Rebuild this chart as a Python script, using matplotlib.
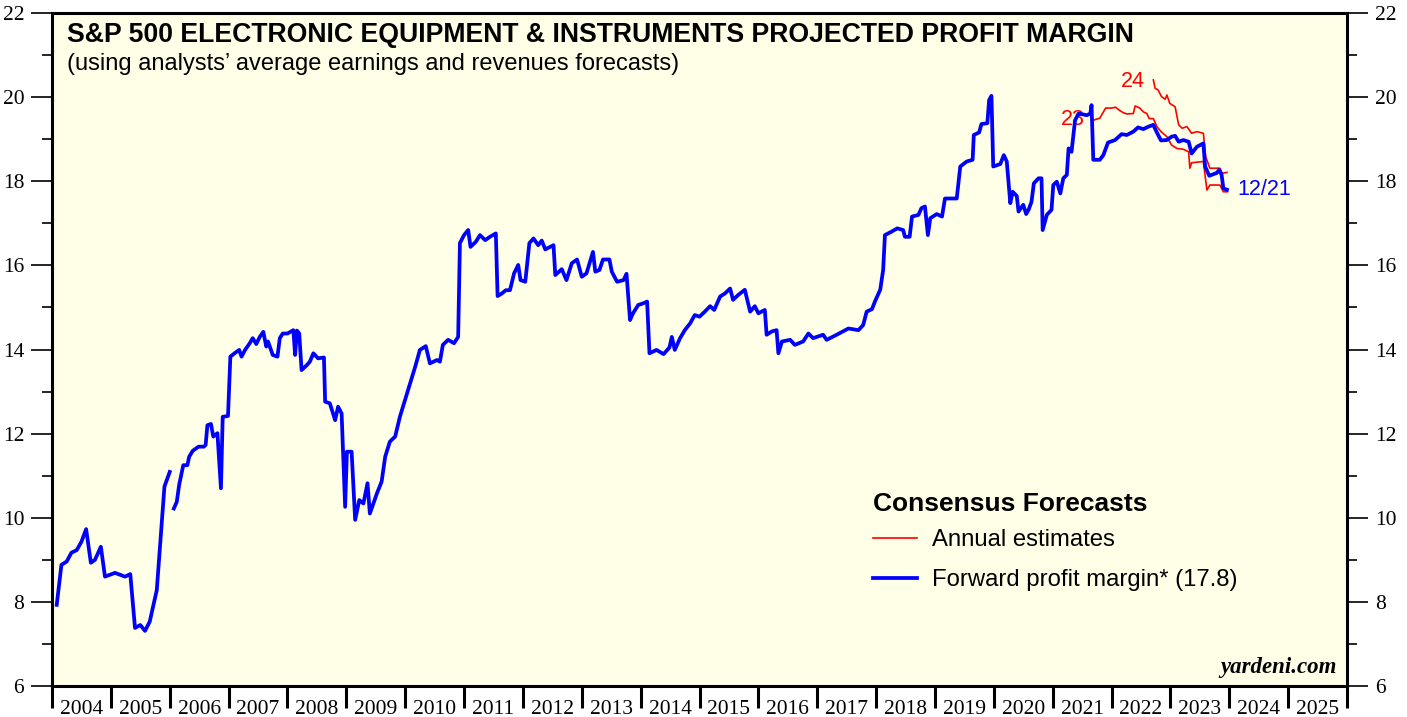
import numpy as np
import matplotlib
matplotlib.use("Agg")
import matplotlib.pyplot as plt
from matplotlib.lines import Line2D
from matplotlib.ticker import MultipleLocator, FixedLocator, NullFormatter

# forward profit margin (decimal year, %)
fwd_years = [
    2004.08, 2004.16, 2004.25, 2004.33, 2004.42, 2004.50, 2004.58, 2004.66, 2004.73, 2004.83,
    2004.90, 2005.07, 2005.24, 2005.33, 2005.41, 2005.50, 2005.58, 2005.66, 2005.78, 2005.91,
    2006.00, 2006.03, 2006.07, 2006.12, 2006.16, 2006.23, 2006.30, 2006.33, 2006.39, 2006.49,
    2006.58, 2006.61, 2006.64, 2006.70, 2006.74, 2006.81, 2006.87, 2006.90, 2006.99, 2007.03,
    2007.11, 2007.18, 2007.22, 2007.28, 2007.36, 2007.41, 2007.47, 2007.53, 2007.59, 2007.64,
    2007.67, 2007.75, 2007.83, 2007.87, 2007.92, 2008.00, 2008.10, 2008.13, 2008.16, 2008.20,
    2008.24, 2008.33, 2008.38, 2008.44, 2008.52, 2008.62, 2008.64, 2008.72, 2008.81, 2008.86,
    2008.92, 2008.98, 2009.01, 2009.09, 2009.15, 2009.22, 2009.29, 2009.36, 2009.40, 2009.47,
    2009.52, 2009.60, 2009.66, 2009.74, 2009.83, 2009.91, 2010.17, 2010.25, 2010.35, 2010.42,
    2010.54, 2010.59, 2010.64, 2010.73, 2010.83, 2010.90, 2010.93, 2011.00, 2011.07, 2011.11,
    2011.20, 2011.27, 2011.36, 2011.44, 2011.54, 2011.57, 2011.64, 2011.71, 2011.78, 2011.85,
    2011.92, 2011.96, 2012.04, 2012.11, 2012.18, 2012.26, 2012.32, 2012.38, 2012.52, 2012.55,
    2012.66, 2012.74, 2012.83, 2012.92, 2013.00, 2013.08, 2013.14, 2013.19, 2013.23, 2013.30,
    2013.36, 2013.47, 2013.51, 2013.60, 2013.71, 2013.76, 2013.82, 2013.87, 2013.96, 2014.05,
    2014.11, 2014.15, 2014.27, 2014.39, 2014.49, 2014.53, 2014.58, 2014.67, 2014.75, 2014.84,
    2014.92, 2015.00, 2015.09, 2015.18, 2015.25, 2015.35, 2015.43, 2015.52, 2015.57, 2015.66,
    2015.77, 2015.86, 2015.94, 2016.00, 2016.11, 2016.14, 2016.23, 2016.31, 2016.34, 2016.40,
    2016.54, 2016.62, 2016.76, 2016.85, 2016.93, 2017.10, 2017.16, 2017.33, 2017.53, 2017.70,
    2017.78, 2017.84, 2017.93, 2017.98, 2018.07, 2018.12, 2018.15, 2018.26, 2018.36, 2018.46,
    2018.49, 2018.57, 2018.61, 2018.72, 2018.77, 2018.83, 2018.88, 2018.92, 2019.03, 2019.12,
    2019.17, 2019.37, 2019.43, 2019.54, 2019.64, 2019.66, 2019.75, 2019.79, 2019.89, 2019.92,
    2019.96, 2019.99, 2020.11, 2020.17, 2020.22, 2020.28, 2020.32, 2020.39, 2020.42, 2020.50,
    2020.55, 2020.59, 2020.64, 2020.68, 2020.76, 2020.81, 2020.83, 2020.90, 2020.98, 2021.01,
    2021.07, 2021.13, 2021.18, 2021.24, 2021.27, 2021.32, 2021.38, 2021.44, 2021.58, 2021.64,
    2021.66, 2021.69, 2021.80, 2021.86, 2021.94, 2022.06, 2022.17, 2022.26, 2022.37, 2022.45,
    2022.54, 2022.63, 2022.71, 2022.77, 2022.84, 2022.94, 2023.02, 2023.08, 2023.14, 2023.22,
    2023.31, 2023.36, 2023.45, 2023.56, 2023.59, 2023.66, 2023.79, 2023.83, 2023.87, 2023.90,
    2023.96,
]
fwd_margin = [
    7.93, 8.88, 8.96, 9.17, 9.23, 9.43, 9.73, 8.93, 9.00, 9.31,
    8.60, 8.69, 8.60, 8.66, 7.38, 7.45, 7.31, 7.53, 8.28, 10.74,
    11.09, np.nan, 10.22, 10.38, 10.78, 11.25, 11.25, 11.45, 11.59, 11.69,
    11.69, 11.73, 12.20, 12.23, 11.93, 12.01, 10.70, 12.40, 12.42, 13.83,
    13.92, 13.99, 13.83, 13.99, 14.15, 14.27, 14.13, 14.30, 14.42, 14.07,
    14.19, 13.87, 13.83, 14.27, 14.38, 14.38, 14.46, 13.87, 14.45, 14.38,
    13.51, 13.63, 13.71, 13.91, 13.79, 13.81, 12.76, 12.72, 12.32, 12.64,
    12.48, 10.26, 11.57, 11.57, 9.95, 10.42, 10.34, 10.82, 10.10, 10.38,
    10.58, 10.86, 11.45, 11.81, 11.93, 12.40, 13.59, 13.99, 14.08, 13.67,
    13.75, 13.71, 14.11, 14.23, 14.15, 14.30, 16.53, 16.72, 16.84, 16.44,
    16.56, 16.72, 16.60, 16.68, 16.76, 15.27, 15.33, 15.41, 15.41, 15.81,
    16.01, 15.65, 15.61, 16.53, 16.64, 16.48, 16.59, 16.38, 16.48, 15.77,
    15.91, 15.65, 16.05, 16.14, 15.73, 15.81, 16.09, 16.32, 15.85, 15.89,
    16.14, 16.14, 15.85, 15.61, 15.65, 15.80, 14.70, 14.86, 15.06, 15.10,
    15.14, 13.91, 13.99, 13.89, 14.05, 14.30, 13.99, 14.27, 14.46, 14.62,
    14.82, 14.78, 14.90, 15.03, 14.94, 15.26, 15.33, 15.45, 15.18, 15.30,
    15.42, 14.90, 15.03, 14.86, 14.94, 14.35, 14.43, 14.46, 13.91, 14.19,
    14.23, 14.11, 14.19, 14.38, 14.27, 14.35, 14.23, 14.35, 14.50, 14.46,
    14.58, 14.90, 14.96, 15.14, 15.42, 15.89, 16.72, 16.80, 16.88, 16.84,
    16.68, 16.68, 17.16, 17.20, 17.36, 17.40, 16.72, 17.12, 17.22, 17.16,
    17.59, 17.59, 18.35, 18.47, 18.51, 19.10, 19.16, 19.36, 19.38, 19.93,
    20.03, 18.35, 18.41, 18.62, 18.47, 17.48, 17.75, 17.65, 17.28, 17.44,
    17.22, 17.32, 17.51, 17.95, 18.07, 18.07, 16.84, 17.20, 17.32, 17.91,
    17.99, 17.71, 18.07, 18.15, 18.78, 18.70, 19.45, 19.61, 19.57, 19.61,
    19.81, 18.51, 18.51, 18.62, 18.92, 18.98, 19.12, 19.10, 19.18, 19.28,
    19.24, 19.30, 19.34, 19.16, 18.97, 18.98, 19.06, 19.08, 18.94, 18.98,
    18.94, 18.66, 18.82, 18.90, 18.35, 18.13, 18.20, 18.27, 18.15, 17.83,
    17.80,
]

# annual estimates for 2023
est23_years = [
    2021.69, 2021.80, 2021.90, 2022.00, 2022.07, 2022.14, 2022.20, 2022.26, 2022.37, 2022.40,
    2022.48, 2022.54, 2022.60, 2022.64, 2022.71, 2022.77, 2022.84, 2022.94, 2023.02, 2023.11,
    2023.22, 2023.31, 2023.33, 2023.36, 2023.56, 2023.62, 2023.67, 2023.84, 2023.90, 2023.97,
]
est23_margin = [
    19.45, 19.50, 19.74, 19.74, 19.76, 19.68, 19.63, 19.60, 19.61, 19.79,
    19.74, 19.65, 19.61, 19.49, 19.49, 19.30, 19.18, 19.06, 18.86, 18.78,
    18.76, 18.70, 18.31, 18.44, 18.47, 17.79, 17.91, 17.91, 17.75, 17.75,
]

# annual estimates for 2024
est24_years = [
    2022.71, 2022.74, 2022.79, 2022.85, 2022.91, 2022.94, 2022.99, 2023.08, 2023.14, 2023.20,
    2023.28, 2023.36, 2023.45, 2023.56, 2023.60, 2023.67, 2023.84, 2023.88, 2023.96,
]
est24_margin = [
    20.41, 20.21, 20.17, 20.01, 19.95, 20.05, 19.85, 19.77, 19.34, 19.26,
    19.30, 19.14, 19.18, 19.14, 18.58, 18.31, 18.31, 18.19, 18.21,
]

year_labels = [str(y) for y in range(2004, 2026)]

BG = "#fffee6"
SANS = ["Liberation Sans", "DejaVu Sans"]
SERIF = ["Liberation Serif", "DejaVu Serif"]

fig = plt.figure(figsize=(14.07, 7.17), dpi=100)
ax = fig.add_axes([52 / 1407, 1 - 686 / 717, 1295 / 1407, 673 / 717])
ax.set_facecolor(BG)

ax.plot(est23_years, est23_margin, color="#ff0000", lw=1.2, zorder=3)
ax.plot(est24_years, est24_margin, color="#ff0000", lw=1.2, zorder=3)
ax.plot(fwd_years, fwd_margin, color="#0000ff", lw=2.7, zorder=4)

ax.set_xlim(2004, 2026)
ax.set_ylim(6, 22)

for s in ax.spines.values():
    s.set_linewidth(2.2)

# y axis on both sides
ax.yaxis.set_major_locator(MultipleLocator(2))
ax.yaxis.set_minor_locator(MultipleLocator(1))
ax.tick_params(axis="y", which="major", direction="out", length=15, width=1.2,
               left=True, right=True, labelleft=True, labelright=True,
               labelsize=15.5, pad=5)
ax.tick_params(axis="y", which="minor", direction="out", length=7, width=1.2,
               left=True, right=True)

# x axis: boundaries as ticks, year names centered between them
ax.xaxis.set_major_locator(FixedLocator(np.arange(2004, 2027)))
ax.xaxis.set_major_formatter(NullFormatter())
ax.xaxis.set_minor_locator(FixedLocator(np.arange(2004, 2026) + 0.5))
ax.set_xticklabels(year_labels, minor=True)
ax.tick_params(axis="x", which="major", direction="out", length=16, width=2.2)
ax.tick_params(axis="x", which="minor", length=0, labelsize=15.5, pad=10)

for lab in ax.get_xticklabels(minor=True) + ax.get_yticklabels():
    lab.set_family(SERIF)

ax.text(0.0116, 0.986, "S&P 500 ELECTRONIC EQUIPMENT & INSTRUMENTS PROJECTED PROFIT MARGIN",
        transform=ax.transAxes, ha="left", va="top", fontsize=19.2, fontweight="bold",
        family=SANS)
ax.text(0.0116, 0.940, "(using analysts\u2019 average earnings and revenues forecasts)",
        transform=ax.transAxes, ha="left", va="top", fontsize=17, family=SANS)

ax.text(2022.37, 20.36, "24", color="#ff0000", fontsize=15.5, family=SANS,
        ha="center", va="center")
ax.text(2021.35, 19.46, "23", color="#ff0000", fontsize=15.5, family=SANS,
        ha="center", va="center")
ax.text(2024.13, 17.8, "12/21", color="#0000ff", fontsize=15.5, family=SANS,
        ha="left", va="center")

ax.text(0.992, 0.012, "yardeni.com", transform=ax.transAxes, ha="right", va="bottom",
        fontsize=16.5, fontweight="bold", fontstyle="italic", family=SERIF)

handles = [
    Line2D([], [], color="#ff0000", lw=1.2),
    Line2D([], [], color="#0000ff", lw=2.7),
]
leg = ax.legend(handles, ["Annual estimates", "Forward profit margin* (17.8)"],
                loc="upper left", bbox_to_anchor=(0.634, 0.289),
                title="Consensus Forecasts", alignment="left", frameon=False,
                prop={"family": SANS, "size": 17.2},
                handlelength=1.85, handletextpad=0.62, labelspacing=0.74,
                borderaxespad=0, borderpad=0)
leg.get_title().set_fontproperties({"family": SANS, "size": 19, "weight": "bold"})
leg._legend_box.sep = 10

fig.savefig("out.png", dpi=100, facecolor="white")
